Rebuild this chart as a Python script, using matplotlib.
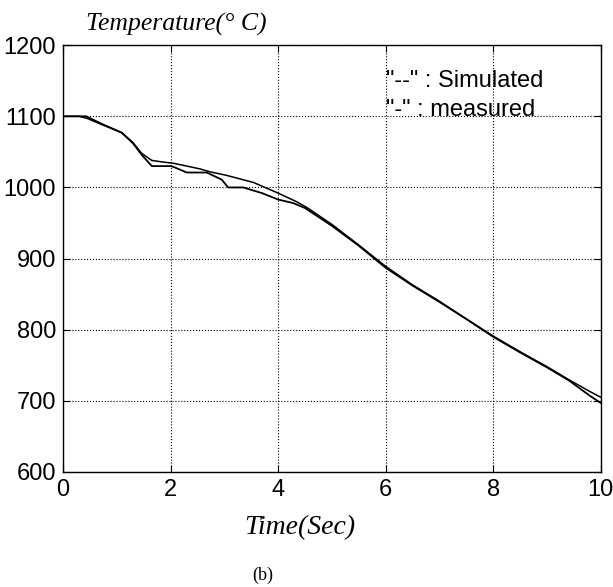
import numpy as np
import matplotlib
matplotlib.use("Agg")
import matplotlib.pyplot as plt

# cooling curve, temperature vs time
t_meas = [0, 0.43, 0.7, 1.09, 1.3, 1.46, 1.65, 2.0, 2.05, 2.3, 2.67, 2.95, 3.07, 3.35,
          3.7, 4.0, 4.28, 4.5, 5.0, 5.5, 6.0, 6.5, 7.0, 7.5, 8.0, 8.5, 9.0, 9.4, 9.8, 10.0]
T_meas = [1100, 1100, 1090, 1077, 1062, 1046, 1030, 1030, 1029, 1021, 1021, 1011, 1000, 1000,
          992, 983, 978, 971, 946, 918, 887, 862, 839, 815, 790, 768, 747, 729, 707, 697]

t_sim = [0, 0.3, 0.45, 0.7, 1.09, 1.3, 1.46, 1.65, 1.83, 2.05, 2.24, 2.55, 2.73, 3.04, 3.54,
         4.0, 4.34, 4.53, 5.0, 5.5, 6.0, 6.5, 7.0, 7.5, 8.0, 8.5, 9.0, 9.4, 9.8, 10.0]
T_sim = [1100, 1100, 1097, 1089, 1077, 1063, 1048, 1038, 1036, 1034, 1031, 1026, 1022, 1017, 1007,
         992, 980, 972, 948, 919, 889, 863, 840, 815, 791, 769, 748, 730, 713, 705]

xticks = [0, 2, 4, 6, 8, 10]
yticks = [600, 700, 800, 900, 1000, 1100, 1200]

fig = plt.figure(figsize=(6.13, 5.87), dpi=100)
ax = fig.add_axes([0.103, 0.196, 0.877, 0.727])

ax.plot(t_meas, T_meas, color="black", lw=1.3)
ax.plot(t_sim, T_sim, color="black", lw=1.1)

ax.set_xlim(0, 10)
ax.set_ylim(600, 1200)
ax.set_xticks(xticks)
ax.set_yticks(yticks)
ax.grid(True, color="black", linestyle=":", lw=0.8)
ax.tick_params(direction="in", top=True, right=True, length=5, labelsize=17, pad=5)
for lab in ax.get_xticklabels() + ax.get_yticklabels():
    lab.set_family("Liberation Sans")
for s in ax.spines.values():
    s.set_linewidth(1.0)

ax.text(6.0, 1141.7, '"--" : Simulated', fontsize=17, family="Liberation Sans", va="baseline")
ax.text(6.0, 1101, '"-" : measured', fontsize=17, family="Liberation Sans", va="baseline")

fig.text(0.287, 0.959, "Temperature(° C)", fontsize=18.5, family="Liberation Serif",
         style="italic", ha="center", va="center")
fig.text(0.489, 0.102, "Time(Sec)", fontsize=20, family="Liberation Serif",
         style="italic", ha="center", va="center")
fig.text(0.428, 0.02, "(b)", fontsize=13, family="Liberation Serif", ha="center", va="center")

fig.savefig("out.png", dpi=100)
